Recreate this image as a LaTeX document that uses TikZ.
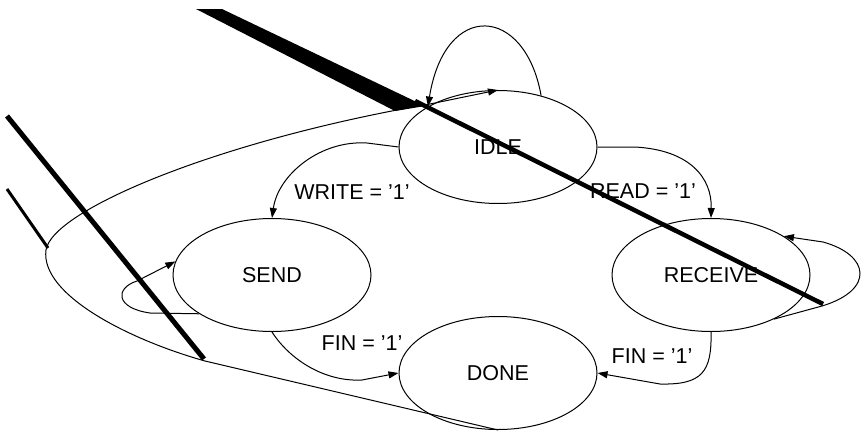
\documentclass[tikz,border=0pt]{standalone}
\usepackage{fontspec}
\setmainfont{Liberation Sans}
\usetikzlibrary{arrows.meta,shapes.geometric}

\tikzset{
  state/.style={draw, ellipse, minimum width=198pt, minimum height=113pt, inner sep=0pt},
  trans/.style={->, line width=1pt},
  smear/.style={fill=black, draw=none}
}

\begin{document}
\begin{tikzpicture}[x=1pt, y=-1pt, line width=1pt, >={Triangle[length=10pt,width=7pt]},
  font=\fontsize{21.5}{25}\selectfont]

\useasboundingbox (0,0) rectangle (862,431);

% States
\node[state] (idle)    at (498,147) {IDLE};
\node[state] (send)    at (272,275) {SEND};
\node[state] (receive) at (711,275) {RECEIVE};
\node[state] (done)    at (498,373) {DONE};

% Guard labels
\node (lblwrite) at (352,192) {WRITE = '1'};
\node (lblread)  at (643,191) {READ = '1'};
\node (lblfinS)  at (362,343) {FIN = '1'};
\node (lblfinR)  at (652,356) {FIN = '1'};

% Transitions out of IDLE
\draw[trans] (idle.west) -- (367,143) .. controls (320,140) and (278,175) .. (send.north);
\draw[trans] (idle.east) -- (635,147) .. controls (690,150) and (712,178) .. (receive.north);

% Transitions into DONE
\draw[trans] (send.south) .. controls (290,360) and (325,382) .. (362,380) -- (done.west);
\draw[trans] (receive.south) .. controls (712,372) and (702,385) .. (660,384) -- (done.east);

% DONE back to IDLE, round the left side
\draw[trans] (done.south) -- (205,361) .. controls (130,340) and (40,295) .. (46,250)
  .. controls (52,210) and (220,140) .. (430,104) -- (idle.north);

% Self loops
\draw[trans] (idle.50) .. controls (525,5) and (445,0) .. (idle.150);
\draw[trans] (send.208) -- (150,313) .. controls (115,308) and (115,288) .. (137,281) -- (send.172);
\draw[trans] (receive.-35) -- (822,306) .. controls (875,290) and (870,255) .. (823,242) -- (receive.28);

% Heavy strokes across the sheet
\fill[smear] (196,9) -- (222,9) -- (425,106) -- (395,111) -- cycle;
\draw[line width=4.5pt] (415,101) -- (823,304);
\draw[line width=5pt] (7,116) -- (204,359);
\draw[line width=3pt] (7,189) -- (48,248);

\end{tikzpicture}
\end{document}
